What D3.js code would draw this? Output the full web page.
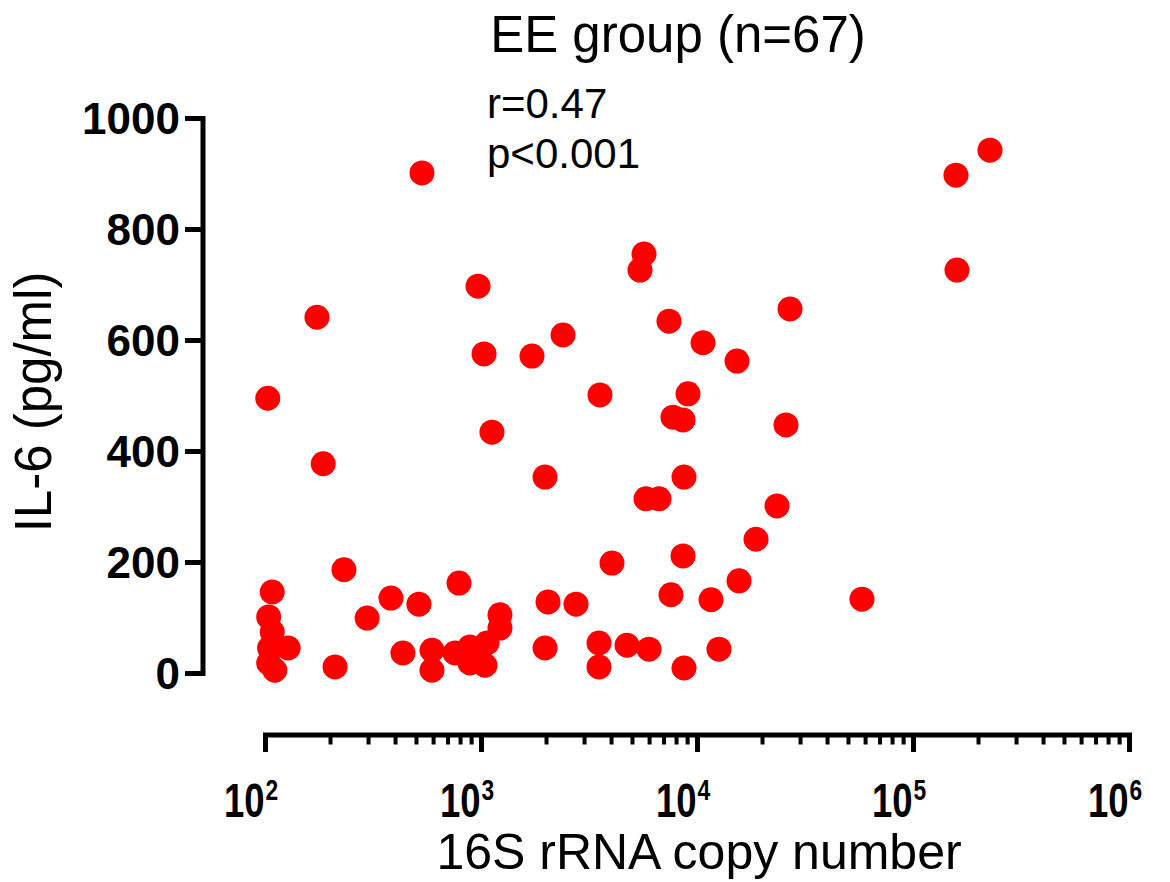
<!DOCTYPE html>
<html>
<head>
<meta charset="utf-8">
<script src="https://cdn.jsdelivr.net/npm/d3@7"></script>
<style>
  html, body { margin: 0; padding: 0; background: #fff; }
  svg { display: block; font-family: "Liberation Sans", Arial, sans-serif; }
</style>
</head>
<body>
<svg id="chart" width="1170" height="882"></svg>
<script>
// 16S rRNA copy number (x, log scale) and IL-6 concentration (pg/ml)
const copyNumber = [
  533, 227200, 158100, 159800, 5684, 5446, 969, 26950, 174, 7420,
  2397, 10660, 1033, 1722, 15320, 103, 3555, 9085, 7743, 8614,
  1124, 25820, 186, 1979, 8706, 5806, 6671, 23460, 18760, 8614,
  4041, 232, 791, 108, 15650, 58050, 383, 516, 2043, 2753,
  11610, 7580, 1224, 1224, 297, 104, 108, 128, 105, 104,
  111, 211, 435, 593, 593, 758, 889, 889, 1066, 1043,
  1979, 3518, 3518, 4742, 5995, 8706, 12640
];
const il6 = [
  901, 942, 897, 726, 755, 726, 697, 656, 641, 634,
  609, 595, 575, 571, 562, 495, 501, 503, 461, 456,
  434, 447, 377, 353, 353, 314, 314, 301, 241, 211,
  198, 186, 162, 146, 166, 133, 135, 124, 128, 124,
  132, 141, 105, 81, 99, 101, 74, 45, 45, 18,
  5, 11, 36, 41, 5, 36, 47, 18, 54, 14,
  45, 54, 11, 50, 43, 9, 43
];
const yTicks = [0, 200, 400, 600, 800, 1000];
const xDecades = [2, 3, 4, 5, 6];
const titleText = "EE group (n=67)";
const statLines = ["r=0.47", "p<0.001"];
const xTitle = "16S rRNA copy number";
const yTitle = "IL-6 (pg/ml)";

const points = copyNumber.map((c, i) => ({ x: c, y: il6[i] }));

const svg = d3.select("#chart");

const x = d3.scaleLog().domain([1e2, 1e6]).range([265, 1129]);
const y = d3.scaleLinear().domain([0, 1000]).range([673, 118]);

// Y axis (offset to the left of the plotting area)
const yAxisG = svg.append("g")
  .attr("transform", "translate(202.5,0)")
  .call(d3.axisLeft(y).tickValues(yTicks).tickFormat(d3.format("d"))
    .tickSize(17.5).tickSizeOuter(0).tickPadding(5));
yAxisG.select(".domain").attr("stroke", "#000").attr("stroke-width", 5).attr("stroke-linecap", "square");
yAxisG.selectAll(".tick line").attr("stroke", "#000").attr("stroke-width", 5);
yAxisG.selectAll(".tick text")
  .attr("fill", "#000")
  .style("font-size", "44px")
  .style("font-weight", "bold")
  .attr("dy", "0.36em");

// X axis: decade ticks with labels, minor ticks between
const xAxisY = 734.5;
const minorVals = [];
xDecades.slice(0, -1).forEach(e => {
  for (let m = 2; m <= 9; m++) minorVals.push(m * Math.pow(10, e));
});

const xMinorG = svg.append("g")
  .attr("transform", `translate(0,${xAxisY})`)
  .call(d3.axisBottom(x).tickValues(minorVals).tickSize(10).tickSizeOuter(0).tickFormat(""));
xMinorG.select(".domain").remove();
xMinorG.selectAll(".tick line").attr("stroke", "#000").attr("stroke-width", 4);

const xAxisG = svg.append("g")
  .attr("transform", `translate(0,${xAxisY})`)
  .call(d3.axisBottom(x).tickValues(xDecades.map(e => Math.pow(10, e)))
    .tickSize(17.5).tickSizeOuter(0).tickFormat(""));
xAxisG.select(".domain").attr("stroke", "#000").attr("stroke-width", 5).attr("stroke-linecap", "square");
xAxisG.selectAll(".tick line").attr("stroke", "#000").attr("stroke-width", 5);

xAxisG.selectAll(".tick").each(function(d) {
  const g = d3.select(this);
  const e = Math.round(Math.log10(d));
  g.append("text")
    .attr("transform", "translate(-1,82) scale(0.76,1)")
    .attr("text-anchor", "end")
    .attr("fill", "#000")
    .style("font-size", "48px")
    .style("font-weight", "bold")
    .text("10");
  g.append("text")
    .attr("transform", "translate(0,65.5) scale(0.76,1)")
    .attr("text-anchor", "start")
    .attr("fill", "#000")
    .style("font-size", "30px")
    .style("font-weight", "bold")
    .text(e);
});

// Scatter points
svg.append("g")
  .selectAll("circle")
  .data(points)
  .join("circle")
  .attr("cx", d => x(d.x))
  .attr("cy", d => y(d.y))
  .attr("r", 12.5)
  .attr("fill", "#ff0000");

// Titles and annotation
svg.append("text")
  .attr("x", 678).attr("y", 52)
  .attr("text-anchor", "middle")
  .style("font-size", "51px")
  .text(titleText);

svg.append("text")
  .attr("x", 699).attr("y", 869)
  .attr("text-anchor", "middle")
  .style("font-size", "50px")
  .text(xTitle);

svg.append("text")
  .attr("transform", "translate(51,402) rotate(-90)")
  .attr("text-anchor", "middle")
  .style("font-size", "51px")
  .text(yTitle);

svg.append("g")
  .selectAll("text")
  .data(statLines)
  .join("text")
  .attr("x", 487)
  .attr("y", (d, i) => 118 + i * 50)
  .style("font-size", "42px")
  .text(d => d);
</script>
</body>
</html>
